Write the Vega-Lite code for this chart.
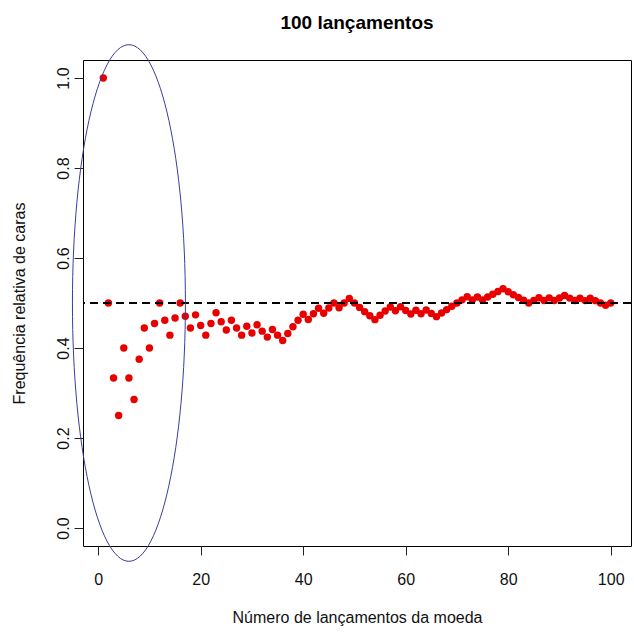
{
  "$schema": "https://vega.github.io/schema/vega-lite/v6.json",
  "width": 548,
  "height": 486,
  "autosize": "none",
  "padding": {"left": 83, "top": 60, "right": 3, "bottom": 89},
  "background": "white",
  "config": {
    "font": "Liberation Sans",
    "view": {"stroke": "#000000", "strokeWidth": 1},
    "axis": {"grid": false, "domain": false, "tickColor": "#222222", "tickWidth": 1, "tickSize": 9, "labelFontSize": 16, "labelColor": "#111111", "titleFontSize": 16, "titleFontWeight": "normal", "titleColor": "#111111", "labelFont": "Liberation Sans", "titleFont": "Liberation Sans"}
  },
  "title": {"text": "100 lançamentos", "fontSize": 19, "fontWeight": "bold", "font": "Liberation Sans", "anchor": "middle", "frame": "group", "baseline": "alphabetic", "offset": -5, "color": "#000000"},
  "datasets": {
    "tosses": [
      {"n": 1, "freq": 1}, {"n": 2, "freq": 0.5}, {"n": 3, "freq": 0.3333}, {"n": 4, "freq": 0.25}, {"n": 5, "freq": 0.4},
      {"n": 6, "freq": 0.3333}, {"n": 7, "freq": 0.2857}, {"n": 8, "freq": 0.375}, {"n": 9, "freq": 0.4444}, {"n": 10, "freq": 0.4},
      {"n": 11, "freq": 0.4545}, {"n": 12, "freq": 0.5}, {"n": 13, "freq": 0.4615}, {"n": 14, "freq": 0.4286}, {"n": 15, "freq": 0.4667},
      {"n": 16, "freq": 0.5}, {"n": 17, "freq": 0.4706}, {"n": 18, "freq": 0.4444}, {"n": 19, "freq": 0.4737}, {"n": 20, "freq": 0.45},
      {"n": 21, "freq": 0.4286}, {"n": 22, "freq": 0.4545}, {"n": 23, "freq": 0.4783}, {"n": 24, "freq": 0.4583}, {"n": 25, "freq": 0.44},
      {"n": 26, "freq": 0.4615}, {"n": 27, "freq": 0.4444}, {"n": 28, "freq": 0.4286}, {"n": 29, "freq": 0.4483}, {"n": 30, "freq": 0.4333},
      {"n": 31, "freq": 0.4516}, {"n": 32, "freq": 0.4375}, {"n": 33, "freq": 0.4242}, {"n": 34, "freq": 0.4412}, {"n": 35, "freq": 0.4286},
      {"n": 36, "freq": 0.4167}, {"n": 37, "freq": 0.4324}, {"n": 38, "freq": 0.4474}, {"n": 39, "freq": 0.4615}, {"n": 40, "freq": 0.475},
      {"n": 41, "freq": 0.4634}, {"n": 42, "freq": 0.4762}, {"n": 43, "freq": 0.4884}, {"n": 44, "freq": 0.4773}, {"n": 45, "freq": 0.4889},
      {"n": 46, "freq": 0.5}, {"n": 47, "freq": 0.4894}, {"n": 48, "freq": 0.5}, {"n": 49, "freq": 0.5102}, {"n": 50, "freq": 0.5},
      {"n": 51, "freq": 0.4902}, {"n": 52, "freq": 0.4808}, {"n": 53, "freq": 0.4717}, {"n": 54, "freq": 0.463}, {"n": 55, "freq": 0.4727},
      {"n": 56, "freq": 0.4821}, {"n": 57, "freq": 0.4912}, {"n": 58, "freq": 0.4828}, {"n": 59, "freq": 0.4915}, {"n": 60, "freq": 0.4833},
      {"n": 61, "freq": 0.4754}, {"n": 62, "freq": 0.4839}, {"n": 63, "freq": 0.4762}, {"n": 64, "freq": 0.4844}, {"n": 65, "freq": 0.4769},
      {"n": 66, "freq": 0.4697}, {"n": 67, "freq": 0.4776}, {"n": 68, "freq": 0.4853}, {"n": 69, "freq": 0.4928}, {"n": 70, "freq": 0.5},
      {"n": 71, "freq": 0.507}, {"n": 72, "freq": 0.5139}, {"n": 73, "freq": 0.5068}, {"n": 74, "freq": 0.5135}, {"n": 75, "freq": 0.5067},
      {"n": 76, "freq": 0.5132}, {"n": 77, "freq": 0.5195}, {"n": 78, "freq": 0.5256}, {"n": 79, "freq": 0.5316}, {"n": 80, "freq": 0.525},
      {"n": 81, "freq": 0.5185}, {"n": 82, "freq": 0.5122}, {"n": 83, "freq": 0.506}, {"n": 84, "freq": 0.5}, {"n": 85, "freq": 0.5059},
      {"n": 86, "freq": 0.5116}, {"n": 87, "freq": 0.5057}, {"n": 88, "freq": 0.5114}, {"n": 89, "freq": 0.5056}, {"n": 90, "freq": 0.5111},
      {"n": 91, "freq": 0.5165}, {"n": 92, "freq": 0.5109}, {"n": 93, "freq": 0.5054}, {"n": 94, "freq": 0.5106}, {"n": 95, "freq": 0.5053},
      {"n": 96, "freq": 0.5104}, {"n": 97, "freq": 0.5052}, {"n": 98, "freq": 0.5}, {"n": 99, "freq": 0.4949}, {"n": 100, "freq": 0.5}
    ],
    "reference": [{"level": 0.5}],
    "highlight": [{"n": 6, "freq": 0.5}]
  },
  "layer": [
    {
      "data": {"name": "tosses"},
      "mark": {"type": "point", "filled": true, "shape": "circle", "size": 55, "color": "#e80000", "opacity": 1},
      "encoding": {
        "x": {"field": "n", "type": "quantitative", "scale": {"domain": [-2.96, 103.96], "nice": false, "zero": false}, "axis": {"values": [0, 20, 40, 60, 80, 100], "title": "Número de lançamentos da moeda", "labelPadding": 16, "titlePadding": 22, "labelFlush": false}},
        "y": {"field": "freq", "type": "quantitative", "scale": {"domain": [-0.04, 1.04], "nice": false, "zero": false}, "axis": {"values": [0, 0.2, 0.4, 0.6, 0.8, 1], "format": ".1f", "title": "Frequência relativa de caras", "labelAngle": 270, "labelAlign": "center", "labelBaseline": "alphabetic", "labelPadding": 6, "titlePadding": 28, "labelFlush": false}}
      }
    },
    {
      "data": {"name": "reference"},
      "mark": {"type": "rule", "color": "#000000", "strokeWidth": 2, "strokeDash": [8, 5]},
      "encoding": {"y": {"field": "level", "type": "quantitative"}}
    },
    {
      "data": {"name": "highlight"},
      "mark": {"type": "point", "filled": false, "fill": null, "stroke": "#3c3c9c", "strokeWidth": 1, "opacity": 1, "size": 266876,
        "shape": "M 0.2187 0 C 0.2187 0.5523 0.1208 1 0 1 C -0.1208 1 -0.2187 0.5523 -0.2187 0 C -0.2187 -0.5523 -0.1208 -1 0 -1 C 0.1208 -1 0.2187 -0.5523 0.2187 0 Z"},
      "encoding": {
        "x": {"field": "n", "type": "quantitative"},
        "y": {"field": "freq", "type": "quantitative"}
      }
    }
  ]
}
